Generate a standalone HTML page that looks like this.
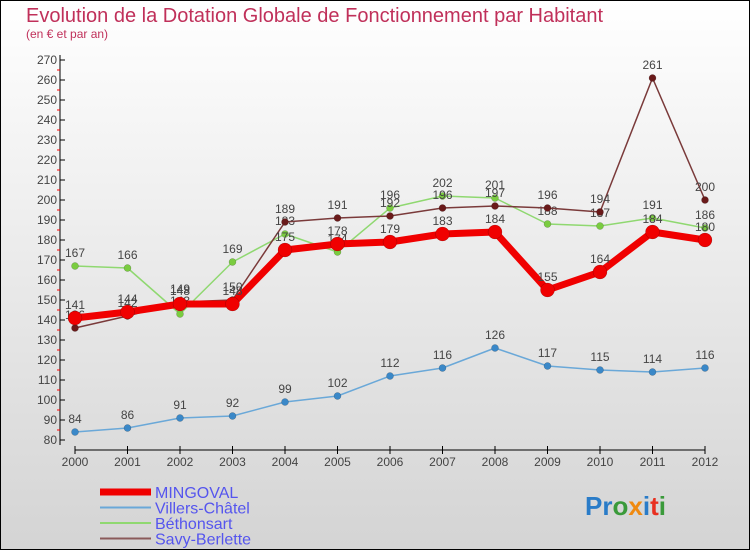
<!DOCTYPE html>
<html><head><meta charset="utf-8"><style>
body{margin:0;}
#c{width:750px;height:550px;position:relative;overflow:hidden;font-family:"Liberation Sans",sans-serif;}
</style></head><body>
<div id="c">
<svg id="s" width="750" height="550" xmlns="http://www.w3.org/2000/svg">
<defs><linearGradient id="bg" x1="0" y1="0" x2="0" y2="1"><stop offset="0" stop-color="#ffffff"/><stop offset="1" stop-color="#d4d4d4"/></linearGradient></defs>
<rect x="0.5" y="0.5" width="749" height="549" fill="url(#bg)" stroke="#000"/>
<text x="26" y="22" font-size="20" fill="#c0305a">Evolution de la Dotation Globale de Fonctionnement par Habitant</text>
<text x="26" y="38" font-size="12" fill="#c0305a">(en € et par an)</text>
<g id="axes"></g>
<g id="series"></g>
<g id="legend"></g>
<text x="585" y="515" font-size="26" font-weight="bold"><tspan fill="#2a7cc8">Pr</tspan><tspan fill="#3a9a3a">o</tspan><tspan fill="#f08a10">x</tspan><tspan fill="#2a7cc8">i</tspan><tspan fill="#e83020">t</tspan><tspan fill="#3a9a3a">i</tspan></text>
</svg>
</div>
<script>
const years=["2000","2001","2002","2003","2004","2005","2006","2007","2008","2009","2010","2011","2012"];
const mingoval=[141,144,148,148,175,178,179,183,184,155,164,184,180];
const villers=[84,86,91,92,99,102,112,116,126,117,115,114,116];
const bethonsart=[167,166,143,169,183,174,196,202,201,188,187,191,186];
const savy=[136,142,149,150,189,191,192,196,197,196,194,261,200];
const yTicks=[80,90,100,110,120,130,140,150,160,170,180,190,200,210,220,230,240,250,260,270];
const NS="http://www.w3.org/2000/svg";
const X=i=>75+i*52.5;
const Y=v=>60+(270-v)*2;
function mk(tag,attrs,parent){const e=document.createElementNS(NS,tag);for(const k in attrs)e.setAttribute(k,attrs[k]);parent.appendChild(e);return e;}
const ax=document.getElementById('axes');
const yl=mk('line',{x1:60,y1:55,x2:60,y2:445,stroke:'#000'},ax);


yTicks.forEach(t=>{
 mk('line',{x1:60,x2:65,y1:Y(t),y2:Y(t),stroke:'#000'},ax);
 if(t<270) mk('line',{x1:57,x2:60,y1:Y(t+5),y2:Y(t+5),stroke:'#f00'},ax);
 const tx=mk('text',{x:57,y:Y(t)+4,'font-size':12,'text-anchor':'end',fill:'#444'},ax);
 tx.textContent=t;
 
 
});
const xl=mk('line',{x1:75,y1:450,x2:705,y2:450,stroke:'#000'},ax);


years.forEach((y,i)=>{
 mk('line',{x1:X(i),x2:X(i),y1:446,y2:454,stroke:'#000'},ax);
 const tx=mk('text',{x:X(i),y:466,'font-size':12,'text-anchor':'middle',fill:'#444'},ax);
 tx.textContent=y;
 
 
});
const sg=document.getElementById('series');
function draw(data,color,w,r,name,ptColor){
 const g=mk('g',{},sg);
 
 
 const pl=mk('polyline',{points:data.map((v,i)=>X(i)+','+Y(v)).join(' '),fill:'none',stroke:color,'stroke-width':w,'stroke-linejoin':'round'},g);
 
 
 data.forEach((v,i)=>{
  const c=mk('circle',{cx:X(i),cy:Y(v),r:r,fill:ptColor,stroke:'rgba(0,0,0,0.3)','stroke-width':0.5},g);
  
  
  const t=mk('text',{x:X(i),y:Y(v)-9,'font-size':12,'text-anchor':'middle',fill:'#444'},g);
  t.textContent=v;
  
  
 });
}
draw(villers,'#6aa8d8',1.5,3.5,'villers-chatel','#3a88c8');
draw(bethonsart,'#8fd870',1.5,3.5,'bethonsart','#7acc40');
draw(savy,'#7a3a3a',1.5,3.5,'savy-berlette','#6a1a1a');
draw(mingoval,'#f00000',7,7,'mingoval','#f00000');
const lg=document.getElementById('legend');
const items=[['MINGOVAL','#f00000',7],['Villers-Châtel','#6aa8d8',2],['Béthonsart','#8fd870',2],['Savy-Berlette','#8a5a5a',2]];
items.forEach((it,i)=>{
 const y=492+i*15.5;
 mk('line',{x1:100,x2:151,y1:y,y2:y,stroke:it[1],'stroke-width':it[2]},lg);
 const t=mk('text',{x:155,y:y+6,'font-size':16,fill:'#5555ee'},lg);
 t.textContent=it[0];
 
 
});
</script>
</body></html>
